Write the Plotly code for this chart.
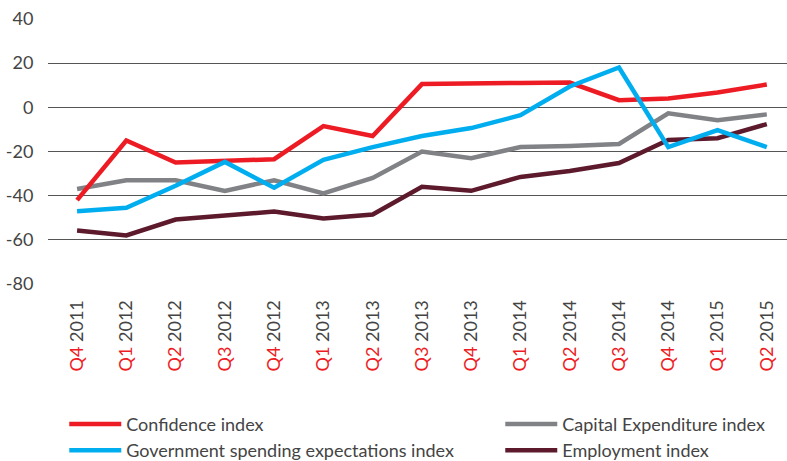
import plotly.graph_objects as go

quarters = ["Q4", "Q1", "Q2", "Q3", "Q4", "Q1", "Q2", "Q3", "Q4", "Q1", "Q2", "Q3", "Q4", "Q1", "Q2"]
years = ["2011", "2012", "2012", "2012", "2012", "2013", "2013", "2013", "2013", "2014", "2014", "2014", "2014", "2015", "2015"]

confidence = [-42, -15, -25, -24, -23.5, -8.5, -13, 10.5, 11, 11, 11.2, 3.2, 4, 6.7, 10.3]
government = [-47, -45.5, -35.5, -24.7, -36.4, -23.8, -18, -13, -9.4, -3.6, 9.4, 18, -18, -10.3, -18]
capex = [-37, -33, -33, -37.8, -33, -39, -32, -20, -23, -18, -17.5, -16.6, -2.7, -5.8, -3.2]
employment = [-55.7, -58, -50.8, -49, -47.2, -50.3, -48.5, -36, -37.8, -31.5, -28.8, -25.2, -14.8, -14, -7.6]

y_ticks = [40, 20, 0, -20, -40, -60, -80]

x = list(range(len(quarters)))
ticktext = [f'<span style="color:#ED1C24">{q}</span> {y}' for q, y in zip(quarters, years)]

# (name, values, colour, legend, rank); added in drawing order
series = [
    ("Employment index", employment, "#5C1A2C", "legend2", 2),
    ("Capital Expenditure index", capex, "#808285", "legend2", 1),
    ("Confidence index", confidence, "#ED1C24", "legend", 1),
    ("Government spending expectations index", government, "#00AEEF", "legend", 2),
]

fig = go.Figure()
for name, vals, col, leg, rank in series:
    fig.add_trace(go.Scatter(x=x, y=vals, name=name, mode="lines", legend=leg,
                             legendrank=rank, line=dict(color=col, width=4.5)))

legend_common = dict(orientation="v", yanchor="top", xanchor="left", traceorder="normal",
                     font=dict(size=18, color="#444"), itemwidth=52, tracegroupgap=0,
                     bgcolor="rgba(0,0,0,0)")

fig.update_layout(
    width=787, height=461,
    margin=dict(l=48, r=0, t=18, b=176, autoexpand=False),
    paper_bgcolor="white", plot_bgcolor="white",
    font=dict(family="Lato", size=18, color="#444"),
    showlegend=True,
    legend=dict(x=0.022, y=-0.452, **legend_common),
    legend2=dict(x=0.612, y=-0.452, **legend_common),
)
fig.update_xaxes(range=[-0.59, 14.41], tickmode="array", tickvals=x, ticktext=ticktext,
                 tickangle=-90, showgrid=False, zeroline=False, showline=False,
                 ticks="outside", ticklen=7, tickcolor="rgba(0,0,0,0)", automargin=False,
                 tickfont=dict(size=18, color="#444"))
fig.update_yaxes(range=[-80.4, 40.4], tickmode="array", tickvals=y_ticks,
                 ticktext=[str(v) for v in y_ticks], automargin=False,
                 showgrid=True, gridcolor="#555", gridwidth=1, zeroline=False,
                 showline=False, ticks="outside", ticklen=10, tickcolor="rgba(0,0,0,0)",
                 tickfont=dict(size=18, color="#444"))

fig.write_html("out.html", config={"displayModeBar": False},
               post_script="document.body.style.margin='0';document.body.style.padding='0';")
